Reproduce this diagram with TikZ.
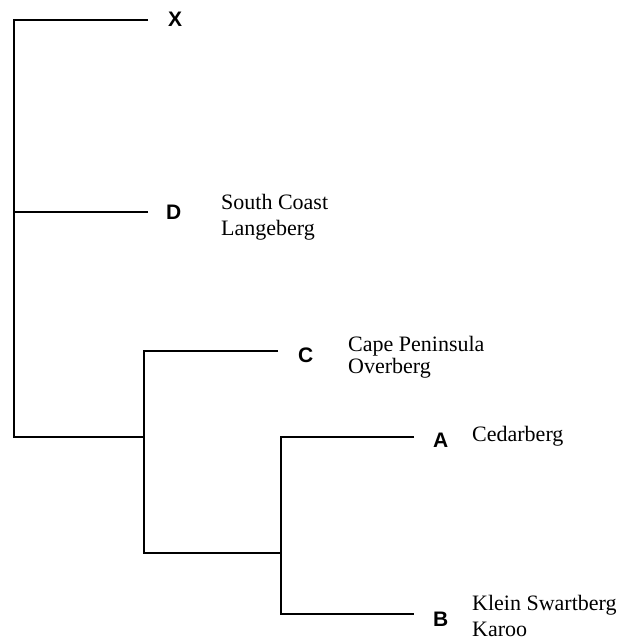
\documentclass[tikz,border=0pt]{standalone}
\usepackage{fontspec}
\setmainfont{Liberation Serif}
\newfontfamily\cladefont{Liberation Sans}
\begin{document}
\begin{tikzpicture}[x=1pt,y=-1pt,
  branch/.style={line width=2.1pt,line join=miter,line cap=butt},
  clade/.style={font=\cladefont\bfseries\fontsize{21}{21}\selectfont,inner sep=0pt,anchor=west},
  region/.style={font=\fontsize{22}{22}\selectfont,inner sep=0pt,anchor=base west}]
\useasboundingbox (0,0) rectangle (616,642);

% clade letters
\node[clade] (X) at (168,19.5) {X};
\node[clade] (D) at (166,212) {D};
\node[clade] (C) at (298,355) {C};
\node[clade] (A) at (433,440.5) {A};
\node[clade] (B) at (433,619) {B};

% region names
\node[region] (d1) at (221,209) {South Coast};
\node[region] (d2) at (221,235) {Langeberg};
\node[region] (c1) at (348,351) {Cape Peninsula};
\node[region] (c2) at (348,373) {Overberg};
\node[region] (a1) at (472,441) {Cedarberg};
\node[region] (b1) at (472,610) {Klein Swartberg};
\node[region] (b2) at (472,636) {Karoo};

% branch tips and junctions
\coordinate (xe) at (148,20);
\coordinate (de) at (148,212);
\coordinate (ce) at (278,351);
\coordinate (ae) at (414,437);
\coordinate (be) at (414,614);
\coordinate (r0) at (14,437);
\coordinate (n1) at (144,437);
\coordinate (n2) at (144,553);
\coordinate (n3) at (281,553);

% tree
\draw[branch] (xe) -| (r0) -- (n1);
\draw[branch] (de) -- (de -| r0);
\draw[branch] (ce) -| (n2) -- (n3);
\draw[branch] (ae) -| (n3) |- (be);
\end{tikzpicture}
\end{document}
